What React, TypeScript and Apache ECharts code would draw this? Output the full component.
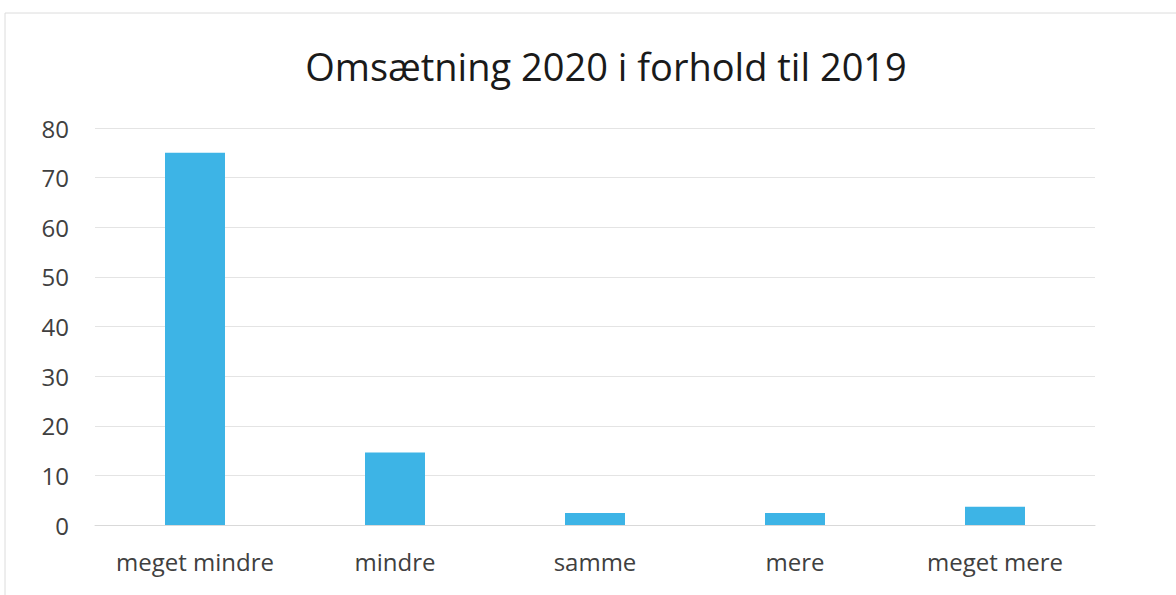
import React, { useEffect, useRef } from "react";
import * as echarts from "echarts";

const title = "Omsætning 2020 i forhold til 2019";
const categories = ["meget mindre", "mindre", "samme", "mere", "meget mere"];
const values = [75, 14.6, 2.4, 2.4, 3.7];
const yTicks = { min: 0, max: 80, interval: 10 };

export default function App() {
  const ref = useRef<HTMLDivElement>(null);
  useEffect(() => {
    if (!ref.current) return;
    const chart = echarts.init(ref.current, null, { renderer: "svg" });
    chart.setOption({
      animation: false,
      backgroundColor: "#ffffff",
      title: {
        text: title,
        left: 601,
        textAlign: "center",
        top: 42,
        textStyle: { fontFamily: "Open Sans", fontSize: 38, fontWeight: "normal", color: "#1a1a1a" },
      },
      graphic: [
        { type: "line", shape: { x1: 5, y1: 13, x2: 1176, y2: 13 }, style: { stroke: "#dcdcdc", lineWidth: 1 } },
        { type: "line", shape: { x1: 5, y1: 13, x2: 5, y2: 595 }, style: { stroke: "#dcdcdc", lineWidth: 1 } },
      ],
      grid: { left: 95, right: 81, top: 128, bottom: 70, containLabel: false },
      xAxis: {
        type: "category",
        data: categories,
        axisLine: { show: true, lineStyle: { color: "#d9d9d9" } },
        axisTick: { show: false },
        axisLabel: { fontFamily: "Open Sans", fontSize: 24, color: "#404040", margin: 24, interval: 0 },
      },
      yAxis: {
        type: "value",
        min: yTicks.min,
        max: yTicks.max,
        interval: yTicks.interval,
        axisLine: { show: false },
        axisTick: { show: false },
        splitLine: { lineStyle: { color: "#e4e4e4" } },
        axisLabel: { fontFamily: "Open Sans", fontSize: 24, color: "#404040", margin: 26 },
      },
      series: [
        {
          type: "bar",
          data: values,
          barWidth: 60,
          itemStyle: { color: "#3db4e6" },
        },
      ],
    });
    return () => chart.dispose();
  }, []);
  return <div ref={ref} style={{ position: "fixed", left: 0, top: 0, width: 1176, height: 595 }} />;
}
